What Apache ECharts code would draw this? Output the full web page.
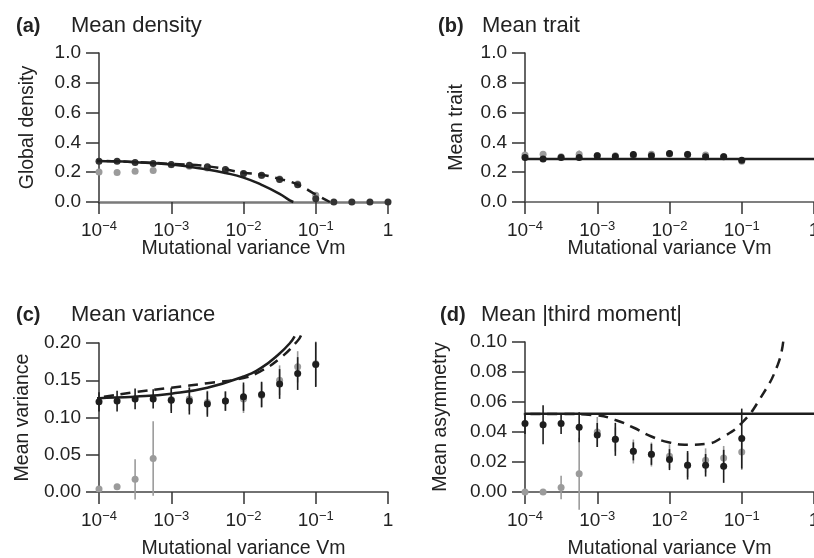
<!DOCTYPE html>
<html>
<head>
<meta charset="utf-8">
<script src="https://cdn.jsdelivr.net/npm/echarts@6/dist/echarts.min.js"></script>
<style>
  html, body { margin: 0; padding: 0; background: #fff; }
  #main { width: 814px; height: 558px; }
</style>
</head>
<body>
<div id="main"></div>
<script>
var chartDom = document.getElementById('main');
var myChart = echarts.init(chartDom);
var option;

var FONT = '"Liberation Sans", Arial, sans-serif';

// mutational variance, quarter-decade steps
var vm = [1e-4, 1.78e-4, 3.16e-4, 5.62e-4, 1e-3, 1.78e-3, 3.16e-3, 5.62e-3,
  1e-2, 1.78e-2, 3.16e-2, 5.62e-2, 1e-1, 1.78e-1, 3.16e-1, 5.62e-1, 1];

// (a) mean density
var densBlack = [0.274, 0.274, 0.265, 0.258, 0.252, 0.247, 0.236, 0.218, 0.192, 0.18, 0.151, 0.116, 0.022, 0, 0, 0, 0];
var densBlackErr = [0.012, 0.012, 0.012, 0.012, 0.01, 0.012, 0.015, 0.015, 0.012, 0.012, 0.012, 0.012, 0.008, 0, 0, 0, 0];
var densGray = [0.202, 0.198, 0.207, 0.211, 0.25, 0.24, 0.228, 0.215, 0.19, 0.178, 0.155, 0.12, 0.045];
var densGrayErr = [0.015, 0.015, 0.015, 0.018, 0.012, 0.012, 0.012, 0.012, 0.012, 0.012, 0.012, 0.012, 0.01];
var densSolid = [[7.4e-5, 0.276], [1e-4, 0.275], [3.16e-4, 0.267], [1e-3, 0.251], [3.16e-3, 0.218],
  [5.62e-3, 0.195], [1e-2, 0.164], [1.78e-2, 0.115], [3.16e-2, 0.055], [4.37e-2, 0.011], [4.9e-2, 0]];
var densDash = [[7.4e-5, 0.277], [1e-4, 0.276], [3.16e-4, 0.268], [1e-3, 0.256], [3.16e-3, 0.24],
  [1e-2, 0.197], [1.78e-2, 0.183], [3.16e-2, 0.155], [5.62e-2, 0.117], [1e-1, 0.05], [1.57e-1, 0]];

// (b) mean trait
var traitBlack = [0.299, 0.288, 0.299, 0.299, 0.31, 0.306, 0.319, 0.31, 0.326, 0.319, 0.303, 0.303, 0.281];
var traitBlackErr = [0.018, 0.02, 0.015, 0.018, 0.018, 0.02, 0.02, 0.018, 0.02, 0.02, 0.018, 0.02, 0.015];
var traitGray = [0.315, 0.321, 0.303, 0.321, 0.312, 0.31, 0.312, 0.32, 0.322, 0.32, 0.315, 0.305, 0.274];
var traitGrayErr = [0.02, 0.02, 0.015, 0.025, 0.02, 0.02, 0.02, 0.02, 0.02, 0.02, 0.02, 0.02, 0.015];
var traitSolid = [[1e-4, 0.288], [1, 0.288]];

// (c) mean variance
var varBlack = [0.121, 0.122, 0.125, 0.125, 0.123, 0.122, 0.118, 0.122, 0.128, 0.131, 0.145, 0.159, 0.171];
var varBlackErr = [0.013, 0.014, 0.014, 0.013, 0.017, 0.018, 0.017, 0.013, 0.019, 0.017, 0.02, 0.022, 0.03];
var varGray = [0.004, 0.007, 0.017, 0.045, 0.124, 0.125, 0.12, 0.122, 0.125, 0.13, 0.15, 0.168, 0.172];
var varGrayErr = [0.002, 0.002, 0.027, 0.05, 0.015, 0.016, 0.016, 0.013, 0.019, 0.017, 0.02, 0.021, 0.03];
var varSolid = [[6.8e-5, 0.125], [1e-4, 0.126], [3.16e-4, 0.128], [1e-3, 0.132], [3.16e-3, 0.14],
  [1e-2, 0.155], [1.78e-2, 0.167], [3.16e-2, 0.186], [4.4e-2, 0.2], [5.1e-2, 0.209]];
var varDash = [[6.8e-5, 0.126], [1e-4, 0.127], [3.16e-4, 0.134], [1e-3, 0.14], [3.16e-3, 0.146],
  [1e-2, 0.153], [1.78e-2, 0.163], [3.16e-2, 0.179], [5.62e-2, 0.203], [6.3e-2, 0.211]];

// (d) mean |third moment|
var asymBlack = [0.0456, 0.0449, 0.0456, 0.0431, 0.038, 0.0351, 0.0271, 0.0251, 0.0216, 0.0178, 0.0178, 0.0171, 0.0356];
var asymBlackErr = [0.007, 0.013, 0.007, 0.01, 0.008, 0.011, 0.006, 0.007, 0.007, 0.0095, 0.0075, 0.011, 0.02];
var asymGray = [0, 0, 0.003, 0.0122, 0.04, 0.035, 0.027, 0.025, 0.0238, 0.018, 0.0211, 0.0227, 0.0267];
var asymGrayErr = [0, 0, 0.0078, 0.024, 0.01, 0.008, 0.008, 0.008, 0.008, 0.008, 0.008, 0.008, 0.012];
var asymSolid = [[1e-4, 0.0522], [1, 0.0522]];
var asymDash = [[6.9e-5, 0.052], [1e-4, 0.052], [3.16e-4, 0.052], [1e-3, 0.051], [1.78e-3, 0.048],
  [3.16e-3, 0.043], [5.62e-3, 0.037], [1e-2, 0.033], [1.78e-2, 0.0315], [3.16e-2, 0.032],
  [5.62e-2, 0.037], [1e-1, 0.046], [1.78e-1, 0.062], [3.16e-1, 0.085], [3.8e-1, 0.103]];

var panelLetters = ['(a)', '(b)', '(c)', '(d)'];
var panelTitles = ['Mean density', 'Mean trait', 'Mean variance', 'Mean |third moment|'];
var yNames = ['Global density', 'Mean trait', 'Mean variance', 'Mean asymmetry'];

var BLACK = '#1e1e1e';
var GRAY = '#9b9b9b';

function powLabel(v) {
  var e = Math.round(Math.log10(v));
  return e === 0 ? '{b|1}' : '{b|10}{s|\u2212' + (-e) + '}';
}

function xAxis(i, lineColor, lineWidth, gap) {
  return {
    type: 'log', logBase: 10, gridIndex: i, min: 1e-4, max: 1,
    axisLine: { show: true, onZero: false, lineStyle: { color: lineColor, width: lineWidth } },
    axisTick: { show: true, length: 12, lineStyle: { color: '#333', width: 1.5 } },
    minorTick: { show: false },
    splitLine: { show: false },
    axisLabel: {
      margin: 18, formatter: powLabel,
      rich: {
        b: { fontSize: 19, lineHeight: 21, color: '#222', fontFamily: FONT },
        s: { fontSize: 13, lineHeight: 13, verticalAlign: 'top', color: '#222', fontFamily: FONT }
      }
    },
    name: 'Mutational variance Vm', nameLocation: 'middle', nameGap: gap,
    nameMoveOverlap: false,
    nameTextStyle: { fontSize: 19.5, color: '#222', fontFamily: FONT }
  };
}

function yAxis(i, max, interval, digits, gap) {
  return {
    type: 'value', gridIndex: i, min: 0, max: max, interval: interval,
    axisLine: { show: true, lineStyle: { color: '#333', width: 1.5 } },
    axisTick: { show: true, length: 13, lineStyle: { color: '#333', width: 1.5 } },
    splitLine: { show: false },
    axisLabel: {
      margin: 18, fontSize: 19, color: '#222', fontFamily: FONT,
      formatter: function (v) { return v.toFixed(digits); }
    },
    name: yNames[i], nameLocation: 'middle', nameGap: gap,
    nameMoveOverlap: false,
    nameTextStyle: { fontSize: 19.5, color: '#222', fontFamily: FONT }
  };
}

function errBars(i, ys, errs, color, z) {
  return {
    type: 'custom', xAxisIndex: i, yAxisIndex: i, z: z, silent: true,
    data: ys.map(function (y, k) { return [vm[k], y, errs[k]]; }),
    renderItem: function (params, api) {
      var x = api.value(0), y = api.value(1), e = api.value(2);
      var p1 = api.coord([x, y + e]);
      var p2 = api.coord([x, y - e]);
      return {
        type: 'line',
        shape: { x1: p1[0], y1: p1[1], x2: p2[0], y2: p2[1] },
        style: { stroke: color, lineWidth: 1.6 }
      };
    }
  };
}

function dots(i, ys, color, z) {
  return {
    type: 'scatter', xAxisIndex: i, yAxisIndex: i, z: z, symbolSize: 7,
    itemStyle: { color: color, opacity: 1 },
    data: ys.map(function (y, k) { return [vm[k], y]; })
  };
}

function curve(i, pts, dashed) {
  return {
    type: 'line', xAxisIndex: i, yAxisIndex: i, z: 10, data: pts,
    showSymbol: false, smooth: 0.5, clip: false,
    lineStyle: { color: BLACK, width: 2.5, type: dashed ? [10, 7] : 'solid' }
  };
}

var titles = [];
var letterLeft = [16, 438, 16, 440];
var titleLeft = [71, 482, 71, 481];
var titleTop = [15, 15, 304, 304];
for (var i = 0; i < 4; i++) {
  titles.push({
    left: letterLeft[i], top: titleTop[i] + 1, padding: 0, text: panelLetters[i],
    textStyle: { fontSize: 20, fontWeight: 'bold', color: '#222', fontFamily: FONT }
  });
  titles.push({
    left: titleLeft[i], top: titleTop[i], padding: 0, text: panelTitles[i],
    textStyle: { fontSize: 22, fontWeight: 'normal', color: '#222', fontFamily: FONT }
  });
}

option = {
  animation: false,
  backgroundColor: '#fff',
  title: titles,
  grid: [
    { left: 99, top: 53, width: 289, height: 149, outerBoundsMode: 'none' },
    { left: 525, top: 53, width: 289, height: 149, outerBoundsMode: 'none' },
    { left: 99, top: 343, width: 289, height: 149, outerBoundsMode: 'none' },
    { left: 525, top: 342, width: 289, height: 150, outerBoundsMode: 'none' }
  ],
  xAxis: [
    xAxis(0, '#7a7a7a', 2.5, 37),
    xAxis(1, '#555', 1.5, 37),
    xAxis(2, '#444', 1.5, 47),
    xAxis(3, '#444', 1.5, 47)
  ],
  yAxis: [
    yAxis(0, 1, 0.2, 1, 61),
    yAxis(1, 1, 0.2, 1, 58),
    yAxis(2, 0.2, 0.05, 2, 66),
    yAxis(3, 0.1, 0.02, 2, 74)
  ],
  series: [
    errBars(0, densGray, densGrayErr, GRAY, 2), dots(0, densGray, GRAY, 3),
    errBars(0, densBlack, densBlackErr, BLACK, 4), dots(0, densBlack, '#333', 5),
    curve(0, densSolid, false), curve(0, densDash, true),

    errBars(1, traitGray, traitGrayErr, GRAY, 2), dots(1, traitGray, GRAY, 3),
    errBars(1, traitBlack, traitBlackErr, BLACK, 4), dots(1, traitBlack, BLACK, 5),
    curve(1, traitSolid, false),

    errBars(2, varGray, varGrayErr, GRAY, 2), dots(2, varGray, GRAY, 3),
    errBars(2, varBlack, varBlackErr, BLACK, 4), dots(2, varBlack, BLACK, 5),
    curve(2, varSolid, false), curve(2, varDash, true),

    errBars(3, asymGray, asymGrayErr, GRAY, 2), dots(3, asymGray, GRAY, 3),
    errBars(3, asymBlack, asymBlackErr, BLACK, 4), dots(3, asymBlack, BLACK, 5),
    curve(3, asymSolid, false), curve(3, asymDash, true)
  ]
};

option && myChart.setOption(option);
</script>
</body>
</html>
